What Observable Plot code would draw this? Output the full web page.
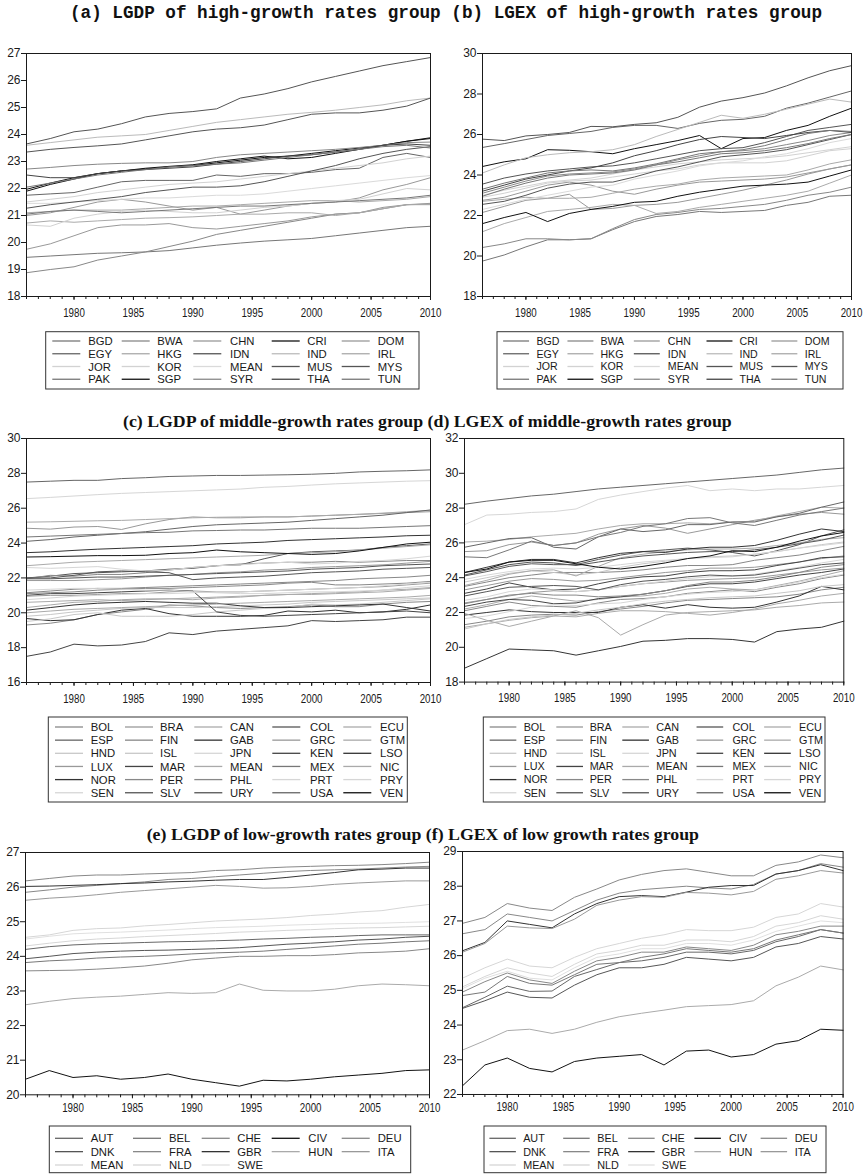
<!DOCTYPE html>
<html><head><meta charset="utf-8">
<script src="https://cdn.jsdelivr.net/npm/d3@7"></script>
<script src="https://cdn.jsdelivr.net/npm/@observablehq/plot@0.6"></script>
<style>
html,body{margin:0;padding:0;background:#fff;}
#page{position:relative;width:868px;height:1174px;overflow:hidden;background:#fff;}
</style></head><body><div id="page"></div>
<script>
// ---------------- DATA ----------------
const years = [1976,1978,1980,1982,1984,1986,1988,1990,1992,1994,1996,1998,2000,2002,2004,2006,2008,2010];
const xLabelYears = [1980,1985,1990,1995,2000,2005,2010];
const minorTickYears = d3.range(1976, 2011);

const titleTop = "(a) LGDP of high-growth rates group (b) LGEX of high-growth rates group";
const titleMid = "(c) LGDP of middle-growth rates group (d) LGEX of middle-growth rates group";
const titleLow = "(e) LGDP of low-growth rates group (f) LGEX of low growth rates group";

const highNames = ["BGD","BWA","CHN","CRI","DOM","EGY","HKG","IDN","IND","IRL","JOR","KOR","MEAN","MUS","MYS","PAK","SGP","SYR","THA","TUN"];
const midNames = ["BOL","BRA","CAN","COL","ECU","ESP","FIN","GAB","GRC","GTM","HND","ISL","JPN","KEN","LSO","LUX","MAR","MEAN","MEX","NIC","NOR","PER","PHL","PRT","PRY","SEN","SLV","URY","USA","VEN"];
const lowNames = ["AUT","BEL","CHE","CIV","DEU","DNK","FRA","GBR","HUN","ITA","MEAN","NLD","SWE"];

const yTicksA = [18,19,20,21,22,23,24,25,26,27];
const yTicksB = [18,20,22,24,26,28,30];
const yTicksC = [16,18,20,22,24,26,28,30];
const yTicksD = [18,20,22,24,26,28,30,32];
const yTicksE = [20,21,22,23,24,25,26,27];
const yTicksF = [22,23,24,25,26,27,28,29];

// (a) LGDP, high-growth group (legend order)
const lgdpHigh = [
 [19.45,19.5,19.55,19.6,19.62,19.65,19.7,19.8,19.9,19.98,20.05,20.1,20.15,20.25,20.35,20.45,20.55,20.6],
 [18.88,19.0,19.1,19.35,19.5,19.65,19.85,20.05,20.3,20.45,20.6,20.75,20.9,21.05,21.1,21.25,21.4,21.42],
 [19.75,19.95,20.25,20.55,20.65,20.65,20.7,20.55,20.5,20.6,20.7,20.8,20.95,21.05,21.1,21.3,21.4,21.45],
 [21.97,22.2,22.4,22.55,22.65,22.72,22.8,22.85,22.95,23.05,23.15,23.2,23.3,23.4,23.5,23.6,23.75,23.85],
 [21.0,21.1,21.3,21.5,21.6,21.5,21.35,21.2,21.3,21.05,21.2,21.35,21.45,21.5,21.65,21.95,22.15,22.4],
 [21.75,21.8,21.85,22.05,22.25,22.3,22.3,22.3,22.5,22.45,22.55,22.55,22.6,22.7,22.75,23.15,23.3,23.15],
 [21.1,21.15,21.2,21.2,21.2,21.25,21.3,21.35,21.35,21.4,21.45,21.5,21.55,21.55,21.5,21.55,21.6,21.7],
 [23.65,23.85,24.1,24.2,24.4,24.65,24.78,24.85,24.95,25.35,25.5,25.7,25.95,26.15,26.35,26.55,26.7,26.85],
 [23.6,23.7,23.8,23.9,23.95,24.0,24.15,24.3,24.45,24.55,24.65,24.75,24.82,24.9,25.0,25.1,25.25,25.35],
 [20.72,20.8,20.75,20.8,20.85,20.9,20.92,20.95,21.0,21.05,21.05,21.1,21.1,21.0,21.1,21.25,21.4,21.4],
 [21.5,21.6,21.7,21.85,21.95,22.05,22.15,22.2,22.25,22.35,22.45,22.55,22.65,22.75,22.85,22.95,23.1,23.2],
 [20.65,20.6,20.9,21.05,21.15,21.2,21.15,21.1,21.1,21.2,21.3,21.35,21.45,21.55,21.6,21.8,22.0,21.95],
 [21.45,21.45,21.5,21.55,21.6,21.65,21.65,21.7,21.75,21.75,21.8,21.9,22.0,22.1,22.2,22.3,22.4,22.48],
 [23.35,23.45,23.52,23.58,23.65,23.8,23.95,24.1,24.2,24.25,24.35,24.55,24.75,24.8,24.8,24.9,25.05,25.35],
 [21.27,21.4,21.5,21.6,21.7,21.85,21.95,22.05,22.05,22.1,22.25,22.45,22.65,22.85,23.1,23.3,23.45,23.55],
 [21.05,21.15,21.2,21.15,21.1,21.15,21.2,21.25,21.3,21.35,21.35,21.4,21.45,21.5,21.55,21.6,21.65,21.75],
 [21.9,22.15,22.35,22.55,22.65,22.75,22.82,22.88,23.0,23.1,23.2,23.1,23.15,23.3,23.45,23.6,23.75,23.88],
 [22.72,22.78,22.85,22.9,22.93,22.95,22.95,23.0,23.15,23.25,23.3,23.35,23.4,23.45,23.52,23.6,23.7,23.72],
 [22.5,22.4,22.4,22.55,22.65,22.7,22.75,22.8,22.9,23.0,23.1,23.2,23.25,23.35,23.45,23.6,23.65,23.6],
 [22.05,22.2,22.35,22.5,22.6,22.7,22.8,22.85,22.9,22.95,23.05,23.15,23.25,23.35,23.45,23.55,23.6,23.5]
];

// (b) LGEX, high-growth group
const lgexHigh = [
 [19.75,20.05,20.45,20.8,20.8,20.85,21.3,21.7,21.95,22.05,22.2,22.15,22.2,22.25,22.5,22.65,22.95,23.0],
 [20.42,20.6,20.85,20.85,20.8,20.85,21.35,21.8,22.05,22.15,22.3,22.35,22.45,22.55,22.75,23.0,23.15,23.4],
 [22.15,22.45,22.75,22.85,23.05,22.3,22.35,22.5,22.55,22.65,22.85,23.05,23.25,23.5,23.75,24.05,24.3,24.5],
 [24.42,24.65,24.8,25.25,25.22,25.15,25.05,25.3,25.5,25.7,25.95,25.3,25.8,25.85,26.2,26.45,26.9,27.3],
 [22.75,22.9,23.2,23.5,23.65,23.5,23.2,23.05,23.3,23.5,23.65,23.7,23.75,23.8,23.9,24.1,24.3,24.5],
 [25.36,25.55,25.75,25.95,26.05,26.15,26.35,26.45,26.45,26.3,26.55,26.7,26.75,26.9,27.3,27.55,27.85,28.15],
 [21.2,21.6,21.9,22.2,22.3,22.4,22.55,22.5,22.1,22.2,22.4,22.55,22.7,22.85,23.0,23.2,23.6,24.0],
 [25.77,25.7,25.93,26.0,26.1,26.4,26.38,26.5,26.58,26.85,27.35,27.65,27.82,28.05,28.4,28.8,29.15,29.4],
 [24.1,24.5,24.85,25.0,25.1,25.15,25.25,25.5,25.9,26.25,26.6,26.95,26.8,27.0,27.25,27.5,27.75,27.6],
 [22.7,22.8,22.9,22.85,22.85,22.9,23.1,23.3,23.45,23.55,23.75,23.85,23.9,23.95,24.0,24.25,24.55,24.75],
 [22.9,23.1,23.35,23.6,23.7,23.75,23.9,24.05,24.2,24.3,24.5,24.6,24.6,24.6,24.7,24.95,25.2,25.3],
 [23.0,23.25,23.45,23.65,23.75,23.85,24.05,24.25,24.4,24.55,24.65,24.75,24.8,24.85,24.95,25.1,25.25,25.4],
 [22.3,22.55,22.8,23.0,23.2,23.4,23.5,23.8,24.0,24.2,24.45,24.6,24.7,24.9,25.05,25.3,25.6,25.8],
 [23.55,23.85,24.05,24.2,24.3,24.4,24.45,24.6,24.8,25.0,25.2,25.3,25.35,25.6,25.9,26.2,26.35,26.5],
 [22.55,22.7,23.0,23.35,23.55,23.65,23.65,23.9,24.2,24.4,24.65,24.9,25.0,25.1,25.25,25.5,25.75,26.0],
 [22.95,23.3,23.6,23.85,24.0,24.05,24.1,24.25,24.5,24.65,24.85,25.05,25.1,25.2,25.35,25.55,25.8,26.0],
 [21.6,21.9,22.15,21.7,22.1,22.3,22.45,22.65,22.7,22.95,23.15,23.3,23.45,23.5,23.55,23.65,23.95,24.25],
 [23.1,23.4,23.7,23.95,24.05,24.1,24.15,24.3,24.5,24.75,24.95,25.15,25.2,25.3,25.5,25.7,25.95,26.1],
 [23.2,23.5,23.8,24.0,24.2,24.35,24.6,24.95,25.2,25.5,25.75,25.9,25.85,25.8,25.95,26.1,26.2,26.1],
 [23.3,23.6,23.85,24.1,24.2,24.25,24.2,24.35,24.55,24.8,25.05,25.15,25.25,25.45,25.75,26.05,26.2,26.15]
];

// (c) LGDP, middle-growth group
const lgdpMid = [
 [19.3,19.4,19.6,19.9,20.05,20.2,20.45,20.4,20.3,20.25,20.3,20.35,20.45,20.35,20.35,20.5,20.6,20.65],
 [24.85,24.8,24.92,24.95,24.78,25.1,25.35,25.5,25.45,25.45,25.5,25.5,25.55,25.6,25.65,25.7,25.75,25.8],
 [25.2,25.22,25.25,25.28,25.3,25.35,25.4,25.45,25.48,25.5,25.5,25.5,25.55,25.6,25.65,25.72,25.8,25.88],
 [22.0,22.1,22.25,22.3,22.35,22.4,22.5,22.55,22.7,22.75,23.1,23.4,23.5,23.55,23.6,23.75,23.85,23.95],
 [20.3,20.45,20.6,20.65,20.75,20.8,20.8,20.75,20.85,20.9,21.0,21.05,21.1,21.15,21.2,21.3,21.35,21.45],
 [24.1,24.2,24.35,24.45,24.55,24.65,24.8,24.95,25.05,25.1,25.15,25.2,25.3,25.4,25.5,25.6,25.75,25.9],
 [21.95,22.15,22.1,22.2,22.2,22.3,22.45,22.6,22.7,22.8,22.85,22.9,22.9,22.95,22.9,22.95,23.0,23.0],
 [19.67,19.55,19.6,19.9,20.15,20.25,19.95,19.8,19.8,19.8,19.85,20.1,20.05,20.15,20.0,20.05,20.2,20.45],
 [21.85,21.85,21.85,21.9,21.95,22.05,22.15,22.2,22.3,22.35,22.45,22.5,22.6,22.65,22.7,22.75,22.85,22.95],
 [20.6,20.65,20.7,20.75,20.7,20.75,20.8,20.85,20.9,20.95,21.0,21.05,21.05,21.1,21.15,21.2,21.3,21.4],
 [19.5,19.65,19.9,20.0,19.8,19.8,19.8,19.9,20.05,20.15,20.25,20.3,20.5,20.45,20.5,20.6,20.7,20.8],
 [19.8,19.9,20.05,20.15,20.25,20.3,20.3,20.3,20.35,20.4,20.45,20.5,20.6,20.65,20.7,20.75,20.8,20.85],
 [26.55,26.62,26.7,26.78,26.85,26.9,26.95,27.0,27.05,27.1,27.2,27.25,27.33,27.4,27.45,27.5,27.55,27.58],
 [21.0,21.1,21.1,21.15,21.2,21.25,21.3,21.25,20.05,19.85,19.8,19.85,19.9,19.95,20.0,20.05,20.1,20.0],
 [20.15,20.3,20.45,20.55,20.6,20.65,20.6,20.55,20.55,20.4,20.3,20.3,20.35,20.4,20.45,20.5,20.3,20.1],
 [20.95,21.0,21.0,21.05,21.1,21.1,21.2,21.25,21.2,21.2,21.25,21.3,21.35,21.4,21.45,21.5,21.6,21.7],
 [17.5,17.75,18.2,18.1,18.15,18.35,18.85,18.75,18.95,19.05,19.15,19.25,19.55,19.5,19.55,19.6,19.75,19.75],
 [22.7,22.8,22.9,22.95,23.0,23.05,23.1,23.15,23.2,23.25,23.3,23.4,23.45,23.5,23.6,23.7,23.8,23.9],
 [24.35,24.4,24.45,24.5,24.55,24.6,24.62,24.7,24.72,24.75,24.75,24.8,24.85,24.85,24.85,24.9,24.95,25.0],
 [20.0,20.1,20.2,20.25,20.3,20.35,20.4,20.45,20.5,20.55,20.6,20.65,20.7,20.75,20.8,20.85,20.9,21.0],
 [23.45,23.5,23.58,23.65,23.7,23.75,23.8,23.85,23.95,24.0,24.05,24.15,24.2,24.25,24.3,24.35,24.42,24.45],
 [21.15,21.25,21.35,21.4,21.4,21.45,21.5,21.55,21.6,21.65,21.7,21.75,21.8,21.85,21.95,22.0,22.05,22.15],
 [21.1,21.15,21.2,21.3,21.35,21.4,21.4,21.45,21.5,21.55,21.6,21.7,21.75,21.6,21.6,21.65,21.7,21.8],
 [22.6,22.55,22.6,22.65,22.5,22.4,22.45,22.6,22.7,22.75,22.85,22.9,22.8,22.85,22.95,23.0,23.1,23.25],
 [20.75,20.85,20.95,21.0,21.05,21.1,21.1,21.15,21.2,21.2,21.25,21.3,21.35,21.4,21.45,21.55,21.65,21.75],
 [21.3,21.35,21.4,21.4,21.35,21.3,21.3,21.2,21.15,21.1,21.1,21.15,21.2,21.2,21.25,21.3,21.45,21.55],
 [22.0,22.0,22.15,22.35,22.4,22.35,22.3,21.9,22.0,22.05,22.1,22.2,22.3,22.35,22.4,22.5,22.55,22.6],
 [21.95,21.95,22.0,22.05,22.05,22.1,22.15,22.2,22.25,22.3,22.35,22.4,22.5,22.55,22.6,22.7,22.75,22.8],
 [27.5,27.55,27.6,27.6,27.7,27.75,27.82,27.85,27.88,27.88,27.9,27.92,27.95,28.0,28.08,28.12,28.15,28.2],
 [23.2,23.22,23.25,23.28,23.28,23.3,23.4,23.45,23.6,23.5,23.45,23.4,23.35,23.4,23.55,23.75,23.95,24.05]
];

// (d) LGEX, middle-growth group
const lgexMid = [
 [21.3,21.5,21.75,21.85,21.9,21.85,22.05,22.2,22.35,22.55,22.7,22.75,22.8,22.85,22.9,23.05,23.3,23.45],
 [25.5,25.55,25.9,26.05,25.85,26.0,26.5,26.8,27.0,26.85,26.55,26.8,27.05,27.3,27.5,27.65,27.75,27.65],
 [26.05,26.1,26.2,26.35,26.45,26.55,26.8,27.0,27.1,27.1,27.15,27.1,27.2,27.25,27.55,27.8,28.05,28.0],
 [24.1,24.35,24.65,24.8,24.75,24.75,25.05,25.3,25.5,25.6,25.7,25.6,25.45,25.25,25.55,25.9,26.4,26.75],
 [22.2,22.45,22.75,22.95,22.8,22.65,22.75,22.9,22.95,23.1,23.35,23.45,23.35,23.3,23.55,23.8,24.1,24.4],
 [25.75,26.0,26.25,26.3,25.75,25.65,26.35,26.8,26.65,26.75,27.05,27.05,27.2,27.2,27.5,27.7,28.05,28.35],
 [23.5,23.75,24.0,24.15,24.3,24.3,24.3,24.35,24.45,24.6,24.7,24.7,24.75,25.0,25.15,25.3,25.55,25.8],
 [21.85,22.0,22.15,22.05,22.0,22.0,22.0,22.3,22.45,22.25,22.45,22.3,22.25,22.3,22.6,22.95,23.5,23.3],
 [23.3,23.55,23.8,23.95,23.9,23.8,23.85,24.0,24.15,24.3,24.4,24.55,24.55,24.6,24.75,24.9,25.1,25.25],
 [21.15,21.35,21.55,21.7,21.8,21.75,21.95,22.1,22.1,22.05,21.95,21.85,22.0,22.2,22.5,22.7,22.95,23.1],
 [21.05,21.35,21.6,21.75,21.85,21.95,22.15,22.3,22.5,22.65,22.75,22.85,22.9,22.95,23.1,23.25,23.5,23.6],
 [23.75,24.0,24.25,24.4,24.3,24.15,24.3,24.6,24.8,24.95,25.1,25.2,25.25,25.35,25.5,25.7,25.9,26.05],
 [27.05,27.6,27.65,27.75,27.8,27.95,28.5,28.75,28.95,29.15,29.3,29.0,29.1,29.0,29.1,29.1,29.2,29.3],
 [22.35,22.6,22.75,22.7,22.5,22.55,22.8,22.9,23.05,23.25,23.5,23.65,23.65,23.75,23.95,24.15,24.3,24.5],
 [18.8,19.35,19.9,19.85,19.8,19.55,19.8,20.05,20.35,20.4,20.5,20.5,20.45,20.3,20.9,21.05,21.15,21.5],
 [22.55,22.75,22.95,23.15,23.25,23.2,23.3,23.5,23.65,23.75,23.85,23.9,23.95,24.0,24.15,24.3,24.45,24.55],
 [23.1,23.35,23.7,23.45,23.3,23.35,23.65,23.9,24.05,24.1,24.3,24.4,24.4,24.45,24.7,24.9,25.15,25.2],
 [23.55,23.85,24.2,24.4,24.45,24.1,24.65,25.15,25.35,25.5,25.6,25.65,25.65,25.7,25.85,26.0,26.2,26.3],
 [25.2,25.15,25.6,26.1,25.85,26.0,26.35,26.6,26.95,27.1,27.4,27.45,27.15,27.0,27.3,27.6,27.8,28.0],
 [21.95,21.55,21.2,21.5,21.8,22.1,21.7,20.7,21.3,21.85,22.0,22.05,22.1,22.15,22.3,22.4,22.55,22.6],
 [24.3,24.6,24.9,25.05,25.05,24.85,25.15,25.4,25.5,25.45,25.65,25.75,25.75,25.85,26.15,26.5,26.8,26.65],
 [22.5,22.75,23.0,23.1,23.0,23.0,22.9,22.95,23.05,23.25,23.55,23.75,23.75,23.85,24.05,24.3,24.6,24.75],
 [22.1,22.35,22.6,22.4,22.35,22.3,22.55,22.75,22.8,22.9,23.1,23.2,23.3,23.2,23.45,23.65,23.95,24.15],
 [23.9,24.15,24.35,24.5,24.55,24.5,24.6,24.75,24.9,25.0,25.1,25.15,25.2,25.35,25.5,25.7,25.85,26.0],
 [21.65,21.8,22.05,22.3,22.45,22.4,22.5,22.55,22.75,22.9,23.05,23.15,23.2,23.3,23.5,23.75,24.0,24.2],
 [22.7,22.9,23.2,23.35,23.3,23.2,23.3,23.5,23.65,23.8,23.95,24.05,24.1,24.2,24.4,24.6,24.85,25.05],
 [22.95,23.2,23.45,23.5,23.55,23.5,23.3,23.6,23.8,23.9,24.05,24.15,24.1,24.15,24.35,24.55,24.75,24.85],
 [24.15,24.45,24.75,24.9,24.85,24.7,24.9,25.1,25.25,25.35,25.45,25.5,25.5,25.6,25.75,25.95,26.15,26.45],
 [28.22,28.4,28.55,28.7,28.8,28.95,29.1,29.2,29.3,29.4,29.5,29.6,29.7,29.8,29.9,30.05,30.2,30.3],
 [24.3,24.5,24.9,25.0,25.0,24.8,24.6,24.5,24.65,24.85,25.1,25.25,25.55,25.5,25.75,26.1,26.4,26.6]
];

// (e) LGDP, low-growth group
const lgdpLow = [
 [24.2,24.28,24.33,24.36,24.38,24.4,24.42,24.43,24.45,24.47,24.5,24.52,24.55,24.57,24.6,24.62,24.62,24.62],
 [23.82,23.87,23.9,23.95,23.98,24.0,24.03,24.07,24.1,24.12,24.15,24.2,24.25,24.3,24.35,24.38,24.42,24.45],
 [23.58,23.59,23.6,23.63,23.67,23.72,23.8,23.9,23.95,24.0,24.0,24.02,24.02,24.05,24.1,24.12,24.15,24.22],
 [20.45,20.7,20.5,20.55,20.45,20.5,20.6,20.45,20.35,20.25,20.42,20.4,20.45,20.52,20.57,20.62,20.7,20.72],
 [25.85,25.92,26.0,26.05,26.1,26.15,26.22,26.25,26.3,26.35,26.4,26.45,26.48,26.5,26.52,26.55,26.58,26.6],
 [23.93,24.0,24.08,24.12,24.15,24.17,24.18,24.2,24.22,24.25,24.3,24.35,24.38,24.42,24.47,24.5,24.55,24.58],
 [26.18,26.25,26.32,26.35,26.35,26.38,26.4,26.42,26.48,26.5,26.55,26.58,26.6,26.62,26.63,26.65,26.68,26.72],
 [26.02,26.03,26.05,26.07,26.1,26.12,26.15,26.17,26.2,26.22,26.22,26.28,26.35,26.42,26.5,26.52,26.55,26.55],
 [22.6,22.7,22.78,22.82,22.85,22.9,22.95,22.93,22.95,23.2,23.02,23.0,23.0,23.05,23.15,23.2,23.18,23.15],
 [25.62,25.68,25.72,25.78,25.85,25.9,25.95,26.0,26.05,26.02,25.97,25.98,26.02,26.08,26.12,26.15,26.18,26.18],
 [24.3,24.38,24.45,24.5,24.53,24.57,24.6,24.63,24.66,24.7,24.72,24.75,24.77,24.8,24.82,24.83,24.85,24.87],
 [24.55,24.62,24.75,24.8,24.82,24.88,24.92,24.97,25.02,25.05,25.08,25.12,25.18,25.22,25.28,25.32,25.42,25.5],
 [24.5,24.58,24.65,24.68,24.7,24.73,24.76,24.8,24.83,24.85,24.87,24.9,24.92,24.94,24.95,24.96,24.98,25.0]
];

// (f) LGEX, low-growth group
const lgexLow = [
 [24.5,24.8,25.12,24.97,24.98,25.4,25.6,25.8,25.85,25.95,26.1,26.1,26.05,26.15,26.4,26.55,26.75,26.65],
 [24.85,24.95,25.4,25.2,25.15,25.45,25.75,25.8,25.95,26.05,26.2,26.15,26.1,26.2,26.45,26.6,26.75,26.65],
 [24.95,25.25,25.5,25.3,25.2,25.55,25.85,25.95,26.1,26.1,26.25,26.2,26.15,26.3,26.6,26.7,26.85,26.85],
 [22.25,22.85,23.05,22.75,22.65,22.95,23.05,23.1,23.15,22.85,23.25,23.28,23.08,23.15,23.45,23.55,23.88,23.85],
 [26.63,26.75,27.2,27.1,27.0,27.3,27.6,27.8,27.9,27.95,28.0,27.95,27.92,28.05,28.35,28.45,28.65,28.55],
 [24.48,24.7,24.95,24.8,24.78,25.15,25.45,25.65,25.65,25.75,25.95,25.9,25.85,25.95,26.25,26.35,26.55,26.48],
 [26.93,27.1,27.5,27.37,27.3,27.68,27.92,28.18,28.34,28.45,28.5,28.4,28.3,28.3,28.6,28.7,28.9,28.82],
 [26.14,26.38,27.0,26.9,26.8,27.2,27.5,27.7,27.73,27.7,27.83,27.97,28.02,28.02,28.35,28.45,28.62,28.45],
 [23.28,23.55,23.84,23.88,23.76,23.88,24.08,24.24,24.34,24.43,24.53,24.56,24.59,24.7,25.13,25.38,25.7,25.59],
 [26.1,26.35,26.85,26.8,26.78,27.05,27.45,27.6,27.7,27.68,27.82,27.8,27.75,27.85,28.2,28.3,28.45,28.38],
 [25.35,25.65,25.9,25.7,25.65,25.95,26.2,26.35,26.5,26.6,26.75,26.72,26.72,26.82,27.1,27.2,27.5,27.4],
 [25.1,25.4,25.65,25.5,25.4,25.75,26.05,26.15,26.3,26.3,26.45,26.45,26.4,26.55,26.85,26.95,27.15,27.05],
 [25.05,25.35,25.55,25.35,25.3,25.65,25.95,26.05,26.2,26.2,26.35,26.35,26.3,26.45,26.7,26.85,27.0,26.95]
];

// ---------------- STYLE ----------------
const highColors = ["#777","#888","#999","#111","#999","#666","#aaa","#555","#bbb","#aaa","#d2d2d2","#d2d2d2","#dadada","#555","#555","#777","#111","#888","#444","#777"];
const midColors = ["#888","#999","#aaa","#555","#aaa","#666","#888","#333","#999","#aaa","#c8c8c8","#c8c8c8","#d6d6d6","#444","#333","#999","#444","#aaa","#777","#aaa","#333","#888","#888","#d6d6d6","#d6d6d6","#d6d6d6","#555","#555","#666","#111"];
const lowColors = ["#666","#777","#888","#111","#888","#555","#888","#333","#aaa","#999","#d6d6d6","#d6d6d6","#e0e0e0"];

const INK = "#1a1a1a";
const page = document.getElementById("page");

function makePanel(p) {
  const ML = 40, MT = 10, MR = 16, MB = 34;
  const [x0, y0, x1, y1] = p.frame;
  const width = (x1 - x0) + ML + MR, height = (y1 - y0) + MT + MB;
  const data = [];
  p.names.forEach((n, i) => p.series[i].forEach((v, j) => data.push({name: n, year: years[j], value: v})));
  const chart = Plot.plot({
    width, height, marginLeft: ML, marginRight: MR, marginTop: MT, marginBottom: MB,
    style: {background: "transparent", color: INK, fontFamily: "'Liberation Sans', Arial, sans-serif", fontSize: "12px", overflow: "visible"},
    x: {domain: [1976, 2010]},
    y: {domain: p.yDomain},
    color: {domain: p.names, range: p.colors},
    marks: [
      Plot.line(data, {x: "year", y: "value", z: "name", stroke: "name", strokeWidth: 1}),
      Plot.axisX(minorTickYears, {tickSize: 3, tickFormat: () => "", label: null}),
      Plot.axisX(xLabelYears, {tickSize: 4, tickPadding: p.xPad, tickFormat: d => String(d), label: null}),
      Plot.axisY(p.yTicks, {tickSize: 5, tickPadding: 1, tickFormat: d => String(d), label: null}),
      Plot.frame({stroke: INK, strokeWidth: 1})
    ]
  });
  chart.style.position = "absolute";
  chart.style.left = (x0 - ML) + "px";
  chart.style.top = (y0 - MT) + "px";
  // EViews-style condensed year labels
  d3.select(chart).selectAll('g[aria-label="x-axis tick label"] text')
    .attr("textLength", 21.7).attr("lengthAdjust", "spacingAndGlyphs").style("font-size", "12.5px");
  page.appendChild(chart);
}

makePanel({frame: [26, 52.7, 430, 295.7], yDomain: [18, 27], yTicks: yTicksA, names: highNames, colors: highColors, series: lgdpHigh, xPad: 7.5});
makePanel({frame: [481.7, 52.7, 850.7, 295.7], yDomain: [18, 30], yTicks: yTicksB, names: highNames, colors: highColors, series: lgexHigh, xPad: 7.5});
makePanel({frame: [26, 437.7, 430, 681.7], yDomain: [16, 30], yTicks: yTicksC, names: midNames, colors: midColors, series: lgdpMid, xPad: 7.5});
makePanel({frame: [464, 437.7, 843.3, 681.3], yDomain: [18, 32], yTicks: yTicksD, names: midNames, colors: midColors, series: lgexMid, xPad: 7.5});
makePanel({frame: [25, 852, 429, 1094.3], yDomain: [20, 27], yTicks: yTicksE, names: lowNames, colors: lowColors, series: lgdpLow, xPad: 4});
makePanel({frame: [461.7, 851, 842.3, 1094], yDomain: [22, 29], yTicks: yTicksF, names: lowNames, colors: lowColors, series: lgexLow, xPad: 4});

// ---------------- overlay: titles & legends ----------------
const ov = d3.create("svg").attr("width", 868).attr("height", 1174)
  .style("position", "absolute").style("left", "0px").style("top", "0px");

function title(txt, x, y, len, family, size) {
  ov.append("text").attr("x", x).attr("y", y).attr("textLength", len).attr("lengthAdjust", "spacingAndGlyphs")
    .style("font-family", family).style("font-weight", "bold").style("font-size", size + "px").attr("fill", "#111").text(txt);
}
title(titleTop, 70, 17.5, 752, "'Liberation Mono','Courier New',monospace", 17.6);
title(titleMid, 123, 426.7, 608.7, "'Liberation Serif','Times New Roman',serif", 16.6);
title(titleLow, 146.7, 840, 552.3, "'Liberation Serif','Times New Roman',serif", 17);

function legend(names, colors, L) {
  const [bx0, by0, bx1, by1] = L.box;
  const sx = L.sx || 1;
  ov.append("rect").attr("x", bx0).attr("y", by0).attr("width", bx1 - bx0).attr("height", by1 - by0)
    .attr("fill", "none").attr("stroke", "#333").attr("stroke-width", 1);
  names.forEach((n, i) => {
    const r = Math.floor(i / 5), c = i % 5;
    const y = by0 + L.rowOff + r * L.rowStep;
    ov.append("line").attr("x1", bx0 + L.lineX[c] * sx).attr("x2", bx0 + (L.lineX[c] + 28) * sx)
      .attr("y1", y).attr("y2", y).attr("stroke", colors[i]).attr("stroke-width", 1.3);
    ov.append("text").attr("x", bx0 + L.textX[c] * sx).attr("y", y).attr("dy", "0.36em")
      .style("font-family", "'Liberation Sans', Arial, sans-serif").style("font-size", (L.font) + "px")
      .attr("fill", INK).text(n);
  });
}
const colsAB = {lineX: [6.6, 76, 147.6, 226, 296], textX: [42.6, 111.6, 184.3, 261.6, 332], rowOff: 9.3, rowStep: 12.75};
const colsCD = {lineX: [6.7, 76.7, 146, 224, 295], textX: [42.4, 111.7, 181.7, 261.7, 331.7], rowOff: 10, rowStep: 13.15};
const colsEF = {lineX: [5.7, 83.7, 152.4, 222.4, 292.4], textX: [41.4, 119.7, 188, 259, 328.4], rowOff: 12.3, rowStep: 13.35};

legend(highNames, highColors, {...colsAB, box: [45.7, 331.7, 419, 389], font: 11.3});
legend(highNames, highColors, {...colsAB, box: [497, 331.7, 843, 389], sx: 0.927, font: 10.6});
legend(midNames, midColors, {...colsCD, box: [48.3, 717, 407.3, 802], font: 11.3});
legend(midNames, midColors, {...colsCD, box: [483.3, 717, 825, 802], sx: 0.952, font: 10.8});
legend(lowNames, lowColors, {...colsEF, box: [49.3, 1126, 410.7, 1172.7], font: 11.3});
legend(lowNames, lowColors, {...colsEF, box: [484, 1126, 826, 1172.7], sx: 0.946, font: 10.8});

page.appendChild(ov.node());
</script>
</body></html>
